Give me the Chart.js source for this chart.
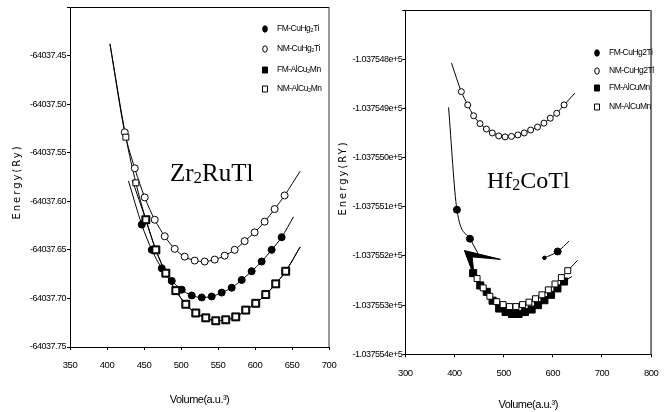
<!DOCTYPE html>
<html>
<head>
<meta charset="utf-8">
<script src="https://cdn.jsdelivr.net/npm/chart.js@4.4.0/dist/chart.umd.min.js"></script>
<style>
    html, body { margin: 0; padding: 0; background: #fff; }
    #wrap { position: relative; width: 669px; height: 412px; }
    #wrap canvas { position: absolute; left: 0; top: 0; }
</style>
</head>
<body>
<div id="wrap">
    <canvas id="zrChart" width="669" height="412"></canvas>
    <canvas id="hfChart" width="669" height="412"></canvas>
</div>
<script>
// ---- Zr2RuTl (left panel) ----
const zrFmCuVol = [447, 460.5, 474, 487.5, 501, 514.5, 528, 541.5, 555, 568.5, 582, 595.5, 609, 622.5, 636];
const zrFmCuE = [-64037.624, -64037.650, -64037.669, -64037.682, -64037.691, -64037.697, -64037.699, -64037.698,
    -64037.694, -64037.689, -64037.681, -64037.672, -64037.662, -64037.650, -64037.637];
const zrFmCuEnds = [[429, -64037.579], [652, -64037.616]];

const zrNmCuVol = [424, 437.5, 451, 464.5, 478, 491.5, 505, 518.5, 532, 545.5, 559, 572.5, 586, 599.5, 613, 626.5, 640];
const zrNmCuE = [-64037.529, -64037.566, -64037.596, -64037.619, -64037.636, -64037.649, -64037.657, -64037.661,
    -64037.662, -64037.660, -64037.656, -64037.650, -64037.641, -64037.632, -64037.621, -64037.608, -64037.594];
const zrNmCuEnds = [[404, -64037.438], [661, -64037.569]];

const zrFmAlVol = [452.5, 466, 479.5, 493, 506.5, 520, 533.5, 547, 560.5, 574, 587.5, 601, 614.5, 628, 641.5];
const zrFmAlE = [-64037.619, -64037.650, -64037.674, -64037.692, -64037.706, -64037.715, -64037.720, -64037.723,
    -64037.722, -64037.719, -64037.712, -64037.705, -64037.696, -64037.685, -64037.672];
const zrFmAlEnds = [[434, -64037.578], [661, -64037.647]];

const zrNmAlVol = [425.5, 439, 452.5, 466, 479.5, 493, 506.5, 520, 533.5, 547, 560.5, 574, 587.5, 601, 614.5, 628, 641.5];
const zrNmAlE = [-64037.534, -64037.581, -64037.619, -64037.650, -64037.674, -64037.692, -64037.706, -64037.715,
    -64037.720, -64037.723, -64037.722, -64037.719, -64037.712, -64037.705, -64037.696, -64037.685, -64037.672];
const zrNmAlEnds = [[404, -64037.438], [661, -64037.647]];

const zrLabels = ['FM-CuHg\u2082Ti', 'NM-CuHg\u2082Ti', 'FM-AlCu\u2082Mn', 'NM-AlCu\u2082Mn'];

// ---- Hf2CoTl (right panel) ----
const hfNmCuVol = [414, 427, 439, 452, 465, 477, 490, 503, 516, 529, 542, 555, 569, 582, 595, 608, 623];
const hfNmCuE = [-103754.866, -103754.893, -103754.915, -103754.931, -103754.942, -103754.950, -103754.956, -103754.958,
    -103754.957, -103754.954, -103754.950, -103754.944, -103754.938, -103754.930, -103754.920, -103754.910, -103754.893];
const hfNmCuEnds = [[394, -103754.808], [645, -103754.869]];

// FM-CuHg2Ti is drawn in two broken pieces (null = gap)
const hfFmCuLineVol = [388, 405, 431.5, 448, 520, 583, 610, 633];
const hfFmCuLineE = [-103754.898, -103755.106, -103755.165, -103755.195, null, -103755.204, -103755.191, -103755.170];
const hfFmCuVol = [405, 431.5, 583, 610];
const hfFmCuE = [-103755.106, -103755.165, -103755.204, -103755.191];

const hfNmAlVol = [446, 458.5, 472, 486, 499, 512, 525, 538.5, 551.5, 565, 578, 591, 604.5, 617.5, 630.5];
const hfNmAlE = [-103755.246, -103755.265, -103755.282, -103755.293, -103755.299, -103755.303, -103755.303, -103755.299,
    -103755.294, -103755.287, -103755.279, -103755.269, -103755.257, -103755.244, -103755.230];
const hfNmAlEnds = [[446, -103755.246], [650.5, -103755.209]];

const hfFmAlVol = [438, 452.5, 465.7, 477.6, 491, 504, 517, 530.5, 543.5, 557, 570, 583, 596.5, 609.5, 623];
const hfFmAlE = [-103755.235, -103755.260, -103755.273, -103755.291, -103755.307, -103755.314, -103755.318, -103755.318,
    -103755.314, -103755.309, -103755.300, -103755.290, -103755.279, -103755.266, -103755.252];
const hfFmAlEnds = [[421.6, -103755.191], [639, -103755.242]];

// black wedge drawn by the original plot near the FM curves
const hfWedgeVol = [420.2, 493.5, 436, 440, 420.2];
const hfWedgeE = [-103755.189, -103755.207, -103755.202, -103755.240, -103755.189];

const hfLabels = ['FM-CuHg2Ti', 'NM-CuHg2Tl', 'FM-AlCuMn', 'NM-AlCuMn'];

const sans = "'Liberation Sans', Arial, sans-serif";

function pts(vols, es) {
    return vols.map(function (v, i) { return { x: v, y: es[i] }; });
}
function withEnds(vols, es, ends) {
    return [{ x: ends[0][0], y: ends[0][1] }].concat(pts(vols, es), [{ x: ends[1][0], y: ends[1][1] }]);
}
function curve(data) {
    return { data: data, showLine: true, borderColor: '#000', borderWidth: 1, pointRadius: 0,
        cubicInterpolationMode: 'monotone', fill: false, order: 20 };
}
function marks(label, data, style, radius, filled, order) {
    return { label: label, inLegend: true, data: data, showLine: false, pointStyle: style, pointRadius: radius,
        pointBackgroundColor: filled ? '#000' : '#fff', pointBorderColor: '#000', pointBorderWidth: 1, order: order };
}

// box, y title, compound name and legend
const decorPlugin = {
    id: 'decor',
    beforeDraw: function (chart) {
        // the original uses a narrow face, so squeeze the letters a little
        chart.ctx.letterSpacing = '-0.5px';
    },
    afterDraw: function (chart, args, o) {
        const ctx = chart.ctx, a = chart.chartArea;
        ctx.save();
        ctx.strokeStyle = '#000';
        ctx.lineWidth = 1;
        ctx.beginPath();
        ctx.moveTo(a.left, a.top + 0.5);
        ctx.lineTo(a.right, a.top + 0.5);
        ctx.stroke();
        ctx.strokeStyle = o.rightColor;
        ctx.lineWidth = o.rightWidth;
        ctx.beginPath();
        ctx.moveTo(a.right, a.top);
        ctx.lineTo(a.right, a.bottom);
        ctx.stroke();

        // y title
        ctx.fillStyle = '#000';
        ctx.save();
        ctx.translate(o.yTitleX, o.yTitleY);
        ctx.rotate(-Math.PI / 2);
        ctx.font = "10px 'DejaVu Sans', sans-serif";
        ctx.letterSpacing = '2px';
        ctx.textAlign = 'center';
        ctx.textBaseline = 'middle';
        ctx.fillText(o.yTitle, 0, 0);
        ctx.restore();

        // compound name with small 2
        ctx.letterSpacing = '0px';
        ctx.textBaseline = 'alphabetic';
        ctx.textAlign = 'left';
        let x = o.nameX;
        const big = o.nameSize + "px 'Liberation Serif', 'DejaVu Serif', serif";
        const small = Math.round(o.nameSize * 0.68) + "px 'Liberation Serif', 'DejaVu Serif', serif";
        o.name.forEach(function (part, i) {
            ctx.font = i === 1 ? small : big;
            ctx.fillText(part, x, o.nameY + (i === 1 ? 2 : 0));
            x += ctx.measureText(part).width;
        });

        // legend
        const items = chart.data.datasets.filter(function (d) { return d.inLegend; });
        items.sort(function (p, q) { return p.legendRow - q.legendRow; });
        ctx.letterSpacing = '-0.5px';
        ctx.font = '8.5px ' + sans;
        ctx.textBaseline = 'middle';
        items.forEach(function (d, i) {
            const y = o.legendRows[i];
            ctx.fillStyle = d.pointBackgroundColor;
            ctx.strokeStyle = '#000';
            ctx.lineWidth = 1;
            ctx.beginPath();
            if (d.pointStyle === 'circle') {
                ctx.ellipse(o.legendX, y, 2.3, 3.2, 0, 0, Math.PI * 2);
            } else {
                ctx.rect(o.legendX - 2.5, y - 3, 5, 6);
            }
            ctx.fill();
            ctx.stroke();
            ctx.fillStyle = '#000';
            ctx.fillText(d.label, o.legendX + 12, y);
        });
        ctx.restore();
        ctx.letterSpacing = '0px';
    }
};

function axes(xmin, xmax, xstep, ymin, ymax, ystep, yfmt, xHeight, yPad, xPad, xTitleSize) {
    return {
        x: {
            type: 'linear', min: xmin, max: xmax,
            afterFit: function (s) { s.height = xHeight; },
            border: { display: true, color: '#000', width: 1 },
            grid: { drawOnChartArea: false, drawTicks: true, tickLength: 3, color: '#000' },
            ticks: { stepSize: xstep, color: '#000', padding: xPad, maxRotation: 0,
                font: { family: sans, size: 9.5 } },
            title: { display: true, text: 'Volume(a.u.\u00b3)', color: '#000', padding: 0,
                font: { family: sans, size: xTitleSize } }
        },
        y: {
            type: 'linear', min: ymin, max: ymax,
            afterFit: function (s) { s.width = 70; },
            border: { display: true, color: '#000', width: 1 },
            grid: { drawOnChartArea: false, drawTicks: true, tickLength: 3, color: '#000' },
            ticks: { stepSize: ystep, color: '#000', padding: yPad, font: { family: sans, size: 9 },
                callback: function (v) { return Math.abs(v - ymax) < 1e-6 ? '' : yfmt(v); } }
        }
    };
}

const baseOpts = { responsive: false, animation: false, events: [] };

// left chart
const zrData = [
    marks(zrLabels[3], pts(zrNmAlVol, zrNmAlE), 'rect', 4.2, false, 0),
    marks(zrLabels[2], pts(zrFmAlVol, zrFmAlE), 'rect', 5.6, true, 1),
    marks(zrLabels[1], pts(zrNmCuVol, zrNmCuE), 'circle', 3.5, false, 2),
    marks(zrLabels[0], pts(zrFmCuVol, zrFmCuE), 'circle', 3.5, true, 3),
    curve(withEnds(zrFmCuVol, zrFmCuE, zrFmCuEnds)),
    curve(withEnds(zrNmCuVol, zrNmCuE, zrNmCuEnds)),
    curve(withEnds(zrFmAlVol, zrFmAlE, zrFmAlEnds)),
    curve(withEnds(zrNmAlVol, zrNmAlE, zrNmAlEnds))
];
zrData[0].legendRow = 3; zrData[1].legendRow = 2; zrData[2].legendRow = 1; zrData[3].legendRow = 0;

new Chart(document.getElementById('zrChart').getContext('2d'), {
    type: 'line',
    data: { datasets: zrData },
    options: Object.assign({}, baseOpts, {
        layout: { padding: { left: 0, right: 340, top: 7, bottom: 5 } },
        scales: axes(350, 700, 50, -64037.75, -64037.40, 0.05, function (v) { return v.toFixed(2); }, 60, 1, 10, 11),
        plugins: {
            legend: { display: false }, tooltip: { enabled: false },
            decor: { rightColor: '#333', rightWidth: 1, yTitle: 'Energy(Ry)', yTitleX: 17, yTitleY: 182,
                name: ['Zr', '2', 'RuTl'], nameX: 170, nameY: 181, nameSize: 25,
                legendX: 265, legendRows: [29, 49, 70, 89] }
        }
    }),
    plugins: [decorPlugin]
});

// right chart
const hfData = [
    marks(hfLabels[3], pts(hfNmAlVol, hfNmAlE), 'rect', 4.2, false, 0),
    marks(hfLabels[2], pts(hfFmAlVol, hfFmAlE), 'rect', 5, true, 1),
    marks(hfLabels[1], pts(hfNmCuVol, hfNmCuE), 'circle', 3, false, 2),
    marks(hfLabels[0], pts(hfFmCuVol, hfFmCuE), 'circle', [3.5, 3.5, 1.8, 3.5], true, 3),
    curve(withEnds(hfNmCuVol, hfNmCuE, hfNmCuEnds)),
    curve(pts(hfFmCuLineVol, hfFmCuLineE)),
    curve(withEnds(hfNmAlVol, hfNmAlE, hfNmAlEnds)),
    curve(withEnds(hfFmAlVol, hfFmAlE, hfFmAlEnds)),
    { data: pts(hfWedgeVol, hfWedgeE), showLine: true, borderColor: '#000', borderWidth: 1, backgroundColor: '#000',
        pointRadius: 0, tension: 0, fill: 'shape', order: 15 }
];
hfData[0].legendRow = 3; hfData[1].legendRow = 2; hfData[2].legendRow = 1; hfData[3].legendRow = 0;

new Chart(document.getElementById('hfChart').getContext('2d'), {
    type: 'line',
    data: { datasets: hfData },
    options: Object.assign({}, baseOpts, {
        layout: { padding: { left: 335.3, right: 11, top: 10, bottom: 0 } },
        scales: axes(300, 800, 100, -103755.4, -103754.7, 0.1,
            function (v) { return (v / 1e5).toFixed(6) + 'e+5'; }, 57.7, 0, 10, 11),
        plugins: {
            legend: { display: false }, tooltip: { enabled: false },
            decor: { rightColor: '#777', rightWidth: 2, yTitle: 'Energy(RY)', yTitleX: 343, yTitleY: 178,
                name: ['Hf', '2', 'CoTl'], nameX: 487, nameY: 188, nameSize: 24,
                legendX: 597, legendRows: [53, 71, 88, 107] }
        }
    }),
    plugins: [decorPlugin]
});
</script>
</body>
</html>
